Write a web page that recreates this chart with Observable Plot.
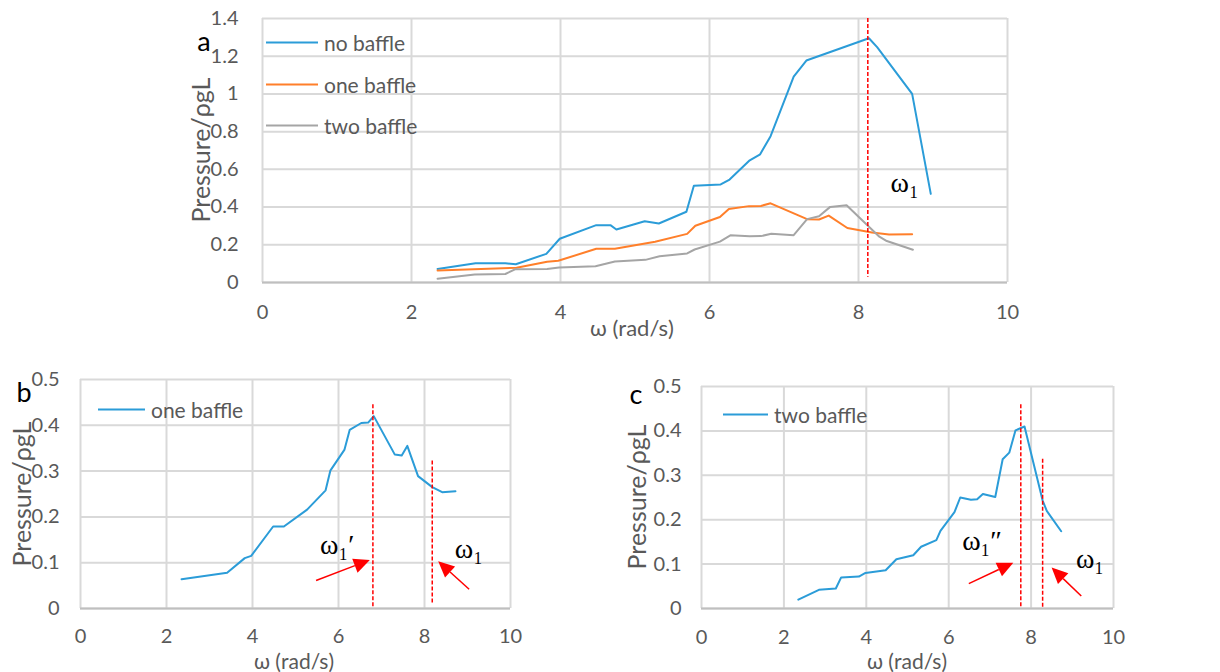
<!DOCTYPE html>
<html>
<head>
<meta charset="utf-8">
<script src="https://cdn.jsdelivr.net/npm/d3@7"></script>
<script src="https://cdn.jsdelivr.net/npm/@observablehq/plot@0.6"></script>
<style>
  html, body { margin: 0; padding: 0; background: #fff; }
  #root { position: relative; width: 1220px; height: 672px; overflow: hidden; font-family: Lato, "Noto Sans", sans-serif; color: #595959; }
  .lbl { position: absolute; white-space: nowrap; line-height: 1; transform: translate(-50%, -50%); }
  .ylbl { position: absolute; white-space: nowrap; line-height: 1; transform: translate(-50%, -50%) rotate(-90deg); }
  .leg { position: absolute; display: flex; align-items: center; white-space: nowrap; transform: translateY(-50%); }
  .leg span.sw { display: inline-block; height: 2px; margin-right: 6px; }
</style>
</head>
<body>
<div id="root"></div>
<script>
// ---------- data ----------
const xTicks = [0, 2, 4, 6, 8, 10];
const yTicksA = [0, 0.2, 0.4, 0.6, 0.8, 1, 1.2, 1.4];
const yTicksBC = [0, 0.1, 0.2, 0.3, 0.4, 0.5];
const seriesNames = ["no baffle", "one baffle", "two baffle"];

const omegaNo = [2.35, 2.86, 3.26, 3.40, 3.81, 3.99, 4.48, 4.67, 4.75, 5.13, 5.32, 5.69, 5.79, 6.15, 6.27, 6.54, 6.68, 6.82, 7.13, 7.30, 8.14, 8.25, 8.72, 8.97];
const pNo     = [0.072, 0.102, 0.102, 0.097, 0.152, 0.232, 0.304, 0.304, 0.281, 0.325, 0.313, 0.375, 0.513, 0.520, 0.546, 0.648, 0.680, 0.776, 1.092, 1.177, 1.295, 1.248, 1.000, 0.470];

const omegaOne = [2.35, 3.41, 3.82, 3.97, 4.48, 4.73, 5.27, 5.70, 5.81, 6.14, 6.26, 6.53, 6.69, 6.82, 7.31, 7.47, 7.60, 7.85, 8.18, 8.41, 8.72];
const pOne     = [0.064, 0.078, 0.110, 0.115, 0.179, 0.179, 0.216, 0.258, 0.301, 0.347, 0.390, 0.405, 0.406, 0.420, 0.336, 0.334, 0.355, 0.289, 0.265, 0.254, 0.256];

const omegaTwo = [2.35, 2.85, 3.26, 3.39, 3.82, 3.98, 4.47, 4.73, 5.14, 5.33, 5.70, 5.80, 6.14, 6.28, 6.54, 6.69, 6.83, 7.13, 7.31, 7.47, 7.62, 7.84, 8.28, 8.38, 8.73];
const pTwo     = [0.020, 0.042, 0.045, 0.070, 0.072, 0.080, 0.086, 0.111, 0.120, 0.139, 0.154, 0.175, 0.217, 0.250, 0.245, 0.246, 0.258, 0.251, 0.336, 0.351, 0.401, 0.410, 0.243, 0.220, 0.174];

// resonance markers (ω, top, bottom)
const resA = {x: [8.125], y1: [1.40], y2: [0.028]};
const resB = {x: [6.80, 8.18], y1: [0.445, 0.322], y2: [0.000, 0.011]};
const resC = {x: [7.75, 8.28], y1: [0.459, 0.336], y2: [0.000, 0.000]};

// arrows (from -> to)
const arrowsB = {x1: [5.49, 9.05], y1: [0.060, 0.041], x2: [6.74, 8.33], y2: [0.105, 0.102]};
const arrowsC = {x1: [6.50, 9.23], y1: [0.055, 0.027], x2: [7.58, 8.51], y2: [0.102, 0.091]};

// annotation labels
const notesA = {x: [8.62], y: [0.525], text: ["ω₁"]};
const notesB = {x: [5.97, 9.03], y: [0.138, 0.130], text: ["ω₁′", "ω₁"]};
const notesC = {x: [6.81, 9.43], y: [0.153, 0.111], text: ["ω₁″", "ω₁"]};

// ---------- styles ----------
const BLUE = "#2b9cd8", ORANGE = "#ff7f2a", GREY = "#a5a5a5", RED = "#ff0000";
const colorsA = [BLUE, ORANGE, GREY];

const root = document.getElementById("root");

function rows(xs, ys) { return xs.map((x, i) => ({x, y: ys[i]})); }
function cols(o) {
  const keys = Object.keys(o);
  return o[keys[0]].map((_, i) => Object.fromEntries(keys.map(k => [k, o[k][i]])));
}

function arrowMark(list) {
  return (index, scales) => {
    const g = d3.create("svg:g");
    for (const a of list) {
      const X1 = scales.x(a.x1), Y1 = scales.y(a.y1), X2 = scales.x(a.x2), Y2 = scales.y(a.y2);
      const ang = Math.atan2(Y2 - Y1, X2 - X1);
      const L = 16, W = 7.5;
      const bx = X2 - L * Math.cos(ang), by = Y2 - L * Math.sin(ang);
      g.append("line").attr("x1", X1).attr("y1", Y1).attr("x2", bx).attr("y2", by)
        .attr("stroke", RED).attr("stroke-width", 1.5);
      const px = -Math.sin(ang) * W, py = Math.cos(ang) * W;
      g.append("polygon")
        .attr("points", `${X2},${Y2} ${bx + px},${by + py} ${bx - px},${by - py}`)
        .attr("fill", RED);
    }
    return g.node();
  };
}

function panel(o) {
  const marks = [
    Plot.gridX(xTicks, {stroke: "#d9d9d9", strokeOpacity: 1, strokeWidth: 2}),
    Plot.gridY(o.yTicks, {stroke: "#d9d9d9", strokeOpacity: 1, strokeWidth: 2}),
    Plot.ruleY([0], {stroke: "#bfbfbf", strokeWidth: 2}),
    Plot.axisX(xTicks, {tickSize: 0, tickPadding: o.padX, fontSize: 20, label: null, tickFormat: d => String(d)}),
    Plot.axisY(o.yTicks, {tickSize: 0, tickPadding: o.padY, fontSize: 20, label: null, tickFormat: d => String(d)})
  ];
  for (const s of o.series) {
    marks.push(Plot.line(s.data, {x: "x", y: "y", stroke: s.color, strokeWidth: 2}));
  }
  if (o.res) marks.push(Plot.ruleX(cols(o.res), {x: "x", y1: "y1", y2: "y2", stroke: RED, strokeWidth: 1.5, strokeDasharray: "4,2"}));
  if (o.arrows) marks.push(arrowMark(cols(o.arrows)));
  if (o.notes) marks.push(Plot.text(cols(o.notes), {x: "x", y: "y", text: "text", fontFamily: "'Liberation Serif', 'DejaVu Serif', serif", fontSize: 28, fill: "#000"}));
  const svg = Plot.plot({
    width: o.width, height: o.height,
    marginLeft: o.ml, marginRight: o.mr, marginTop: o.mt, marginBottom: o.mb,
    x: {domain: [0, 10]},
    y: {domain: o.yDomain},
    style: {color: "#595959", fontFamily: "Lato, 'Noto Sans', sans-serif", background: "transparent", overflow: "visible"},
    marks
  });
  svg.style.position = "absolute";
  svg.style.left = o.left + "px";
  svg.style.top = o.top + "px";
  root.appendChild(svg);
}

// Panel a
panel({
  left: 150, top: 0, width: 880, height: 345, ml: 112, mr: 23, mt: 18, mb: 63,
  yDomain: [0, 1.4], yTicks: yTicksA, padX: 22, padY: 24,
  series: [
    {data: rows(omegaNo, pNo), color: colorsA[0]},
    {data: rows(omegaOne, pOne), color: colorsA[1]},
    {data: rows(omegaTwo, pTwo), color: colorsA[2]}
  ],
  res: resA, notes: notesA
});
// Panel b
panel({
  left: 0, top: 360, width: 600, height: 312, ml: 80, mr: 90, mt: 19, mb: 64,
  yDomain: [0, 0.5], yTicks: yTicksBC, padX: 20, padY: 21,
  series: [{data: rows(omegaOne, pOne), color: BLUE}],
  res: resB, arrows: arrowsB, notes: notesB
});
// Panel c
panel({
  left: 610, top: 360, width: 610, height: 312, ml: 91, mr: 107, mt: 26, mb: 64,
  yDomain: [0, 0.5], yTicks: yTicksBC, padX: 21, padY: 20,
  series: [{data: rows(omegaTwo, pTwo), color: BLUE}],
  res: resC, arrows: arrowsC, notes: notesC
});

// ---------- HTML text: titles, legends, letters ----------
function add(cls, text, x, y, style) {
  const d = document.createElement("div");
  d.className = cls; d.textContent = text;
  d.style.left = x + "px"; d.style.top = y + "px";
  Object.assign(d.style, style || {});
  root.appendChild(d);
  return d;
}
function legend(name, color, x, y, w, fs) {
  const d = document.createElement("div");
  d.className = "leg"; d.style.left = x + "px"; d.style.top = y + "px"; d.style.fontSize = fs + "px";
  const sw = document.createElement("span");
  sw.className = "sw"; sw.style.width = w + "px"; sw.style.background = color;
  d.appendChild(sw);
  d.appendChild(document.createTextNode(name));
  root.appendChild(d);
}

// axis titles
add("lbl", "ω (rad/s)", 632, 328, {fontSize: "22px"});
add("lbl", "ω (rad/s)", 294, 660, {fontSize: "21px"});
add("lbl", "ω (rad/s)", 907, 660, {fontSize: "21px"});
add("ylbl", "Pressure/ρgL", 200, 150, {fontSize: "25px"});
add("ylbl", "Pressure/ρgL", 21, 494, {fontSize: "25px"});
add("ylbl", "Pressure/ρgL", 636, 497, {fontSize: "25px"});

// panel letters
add("lbl", "a", 204, 40, {fontSize: "27px", color: "#000"});
add("lbl", "b", 24, 391, {fontSize: "27px", color: "#000"});
add("lbl", "c", 636, 393, {fontSize: "27px", color: "#000"});

// legends
legend(seriesNames[0], colorsA[0], 266, 42, 52, 21);
legend(seriesNames[1], colorsA[1], 266, 84, 52, 21);
legend(seriesNames[2], colorsA[2], 266, 125, 52, 21);
legend(seriesNames[1], BLUE, 98, 409, 47, 21);
legend(seriesNames[2], BLUE, 723, 414, 45, 21);
</script>
</body>
</html>
